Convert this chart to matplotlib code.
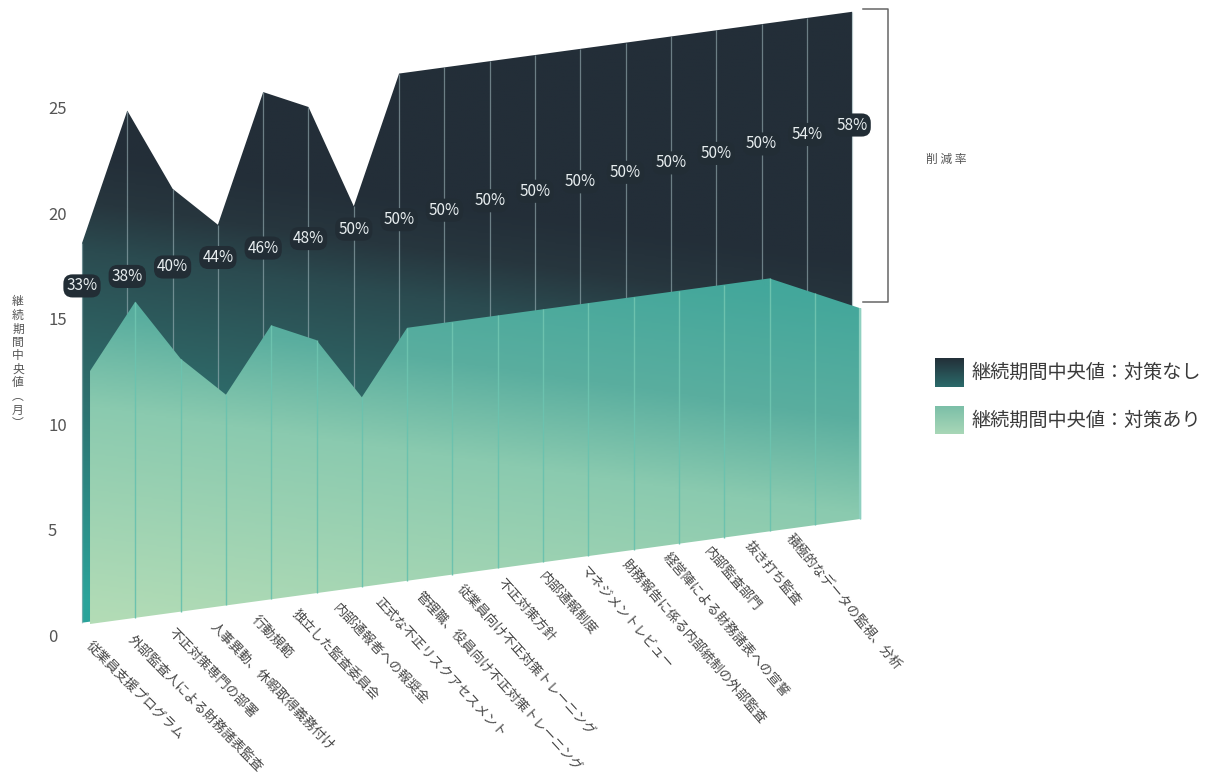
"""
Median fraud duration (months) with and without each anti-fraud control,
drawn as two skewed "3D" area planes with the reduction rate on top.
Saves out.png (1207 x 775 px).
"""

import numpy as np
import matplotlib
matplotlib.use("Agg")
import matplotlib.pyplot as plt
from matplotlib.colors import LinearSegmentedColormap, Normalize
from matplotlib.patches import Polygon
from matplotlib.transforms import Affine2D

plt.rcParams["font.family"] = ["Noto Sans CJK JP", "DejaVu Sans"]

# ── Data ────────────────────────────────────────────────────────────────────
CATEGORIES = [
    "従業員支援プログラム",
    "外部監査人による財務諸表監査",
    "不正対策専門の部署",
    "人事異動、休暇取得義務付け",
    "行動規範",
    "独立した監査委員会",
    "内部通報者への報奨金",
    "正式な不正リスクアセスメント",
    "管理職、役員向け不正対策トレーニング",
    "従業員向け不正対策トレーニング",
    "不正対策方針",
    "内部通報制度",
    "マネジメントレビュー",
    "財務報告に係る内部統制の外部監査",
    "経営陣による財務諸表への宣誓",
    "内部監査部門",
    "抜き打ち監査",
    "積極的なデータの監視、分析",
]
MONTHS_WITHOUT = [18, 24, 20, 18, 24, 23, 18, 24, 24, 24, 24, 24, 24, 24, 24, 24, 24, 24]
MONTHS_WITH = [12, 15, 12, 10, 13, 12, 9, 12, 12, 12, 12, 12, 12, 12, 12, 12, 11, 10]
REDUCTION_PCT = [33, 38, 40, 44, 46, 48, 50, 50, 50, 50, 50, 50, 50, 50, 50, 50, 54, 58]
Y_TICKS = [0, 5, 10, 15, 20, 25]

SERIES_NAMES = ["継続期間中央値：対策なし", "継続期間中央値：対策あり"]
Y_TITLE = "継続期間中央値︵月︶"
BRACKET_LABEL = "削 減 率"

# ── Layout / style ──────────────────────────────────────────────────────────
XLIM = (-1.810, 24.834)
YLIM = (-6.641, 30.123)
SKEW = 0.293                    # baseline rise per category (value units)
BASE_Y = 0.583                  # back plane baseline at first category
FRONT_DX, FRONT_DY = 0.177, -0.061
TILT = 0.301                    # tilt of the gradient isolines
PCT_BASE, PCT_RISE = 16.56, 0.449
TEXT = "#454545"

BACK_STOPS = [(0, "#2aa39a"), (1.7, "#2aa39a"), (13.5, "#2e6464"), (18.3, "#2b4b50"),
              (20.6, "#27363e"), (23.0, "#232e38"), (25, "#232e38")]
FRONT_STOPS = [(0, "#b5ddb7"), (0.7, "#b3dcb6"), (10.9, "#8acaaf"), (15.4, "#5aae9f"),
               (21.1, "#43a79b"), (25, "#43a79b")]


def make_cmap(stops):
    return LinearSegmentedColormap.from_list("", [(p / 25, c) for p, c in stops])


def gradient_area(ax, xs, values, transform, stops, zorder):
    verts = [(xs[0], 0)] + list(zip(xs, values)) + [(xs[-1], 0)]
    poly = Polygon(verts, closed=True, transform=transform,
                   facecolor="none", edgecolor="none")
    ax.add_patch(poly)
    gx = np.linspace(*XLIM, 500)
    gy = np.linspace(*YLIM, 500)
    X, Y = np.meshgrid(gx, gy)
    img = ax.imshow(Y + TILT * X, extent=(*XLIM, *YLIM), origin="lower",
                    cmap=make_cmap(stops), norm=Normalize(0, 25),
                    aspect="auto", interpolation="bilinear", zorder=zorder)
    img.set_clip_path(poly)


fig = plt.figure(figsize=(12.07, 7.75), dpi=100)
ax = fig.add_axes([0, 0, 1, 1])
ax.patch.set_visible(False)

back_aff = Affine2D().from_values(1, SKEW, 0, 1, 0, BASE_Y)
front_aff = Affine2D().from_values(1, SKEW, 0, 1, FRONT_DX, BASE_Y + FRONT_DY)
back = back_aff + ax.transData
front = front_aff + ax.transData

idx = np.arange(len(CATEGORIES))

# back plane: without controls
gradient_area(ax, idx, MONTHS_WITHOUT, back, BACK_STOPS, zorder=1)
ax.vlines(idx, 0, MONTHS_WITHOUT, transform=back, colors="#9db5ba",
          linewidth=0.9, alpha=0.6, zorder=2)

# front plane: with controls
gradient_area(ax, idx, MONTHS_WITH, front, FRONT_STOPS, zorder=3)
ax.vlines(idx[1:], 0, MONTHS_WITH[1:], transform=front, colors="#6cc2ae",
          linewidth=1.0, zorder=4)
ax.vlines([idx[-1]], 0, [MONTHS_WITH[-1]], transform=front, colors="#8fd0c0",
          linewidth=1.6, zorder=4)

# reduction-rate labels
pct_tf = Affine2D().from_values(1, PCT_RISE, 0, 1, 0, PCT_BASE) + ax.transData
for i, p in zip(idx, REDUCTION_PCT):
    ax.text(i, 0, f"{p}%", transform=pct_tf, ha="center", va="center",
            fontsize=11, color="#e8eef0", zorder=6,
            bbox=dict(boxstyle="round,pad=0.2,rounding_size=0.6",
                      fc="#222d35", ec="none"))

# bracket for the reduction at the last category
(bx, top_y), (_, bot_y) = back_aff.transform([(idx[-1], MONTHS_WITHOUT[-1]),
                                              (idx[-1], MONTHS_WITH[-1])])
top_y += 0.12
bot_y += 0.25
x0, x1 = bx + 0.24, bx + 0.79
ax.plot([x0, x1, x1, x0], [top_y, top_y, bot_y, bot_y], color="#666666",
        linewidth=1.1, zorder=5)
ax.text(x1 + 1.28, (top_y + bot_y) / 2 - 0.2, BRACKET_LABEL, ha="center",
        va="center", fontsize=8.5, color="#555555")

# category labels, slightly compressed and steepening to the right
for i, name in zip(idx, CATEGORIES):
    ax.text(0.243 + 0.9095 * i, -0.20 + 0.2984 * i, name,
            rotation=-(45 + 0.3 * i), rotation_mode="anchor",
            ha="left", va="top", fontsize=9.5, color=TEXT)

# y axis
ax.set_yticks(Y_TICKS)
ax.set_yticklabels([str(t) for t in Y_TICKS])
ax.tick_params(axis="y", length=0, pad=-34.6, labelsize=12, labelcolor="#555555")
for t in ax.get_yticklabels():
    t.set_horizontalalignment("left")
ax.set_xticks([])
for s in ax.spines.values():
    s.set_visible(False)
ax.set_ylabel("\n".join(Y_TITLE), rotation=0, fontsize=8.5, color="#555555",
              linespacing=1.05, ha="center", va="center")
ax.yaxis.set_label_coords(0.0149, 0.532)

ax.set_xlim(*XLIM)
ax.set_ylim(*YLIM)

# legend with gradient swatches
swatches = [((0.7747, 0.5006, 0.0240, 0.0374), ["#233039", "#2b6a6a"]),
            ((0.7747, 0.4400, 0.0240, 0.0361), ["#7cbfa8", "#a8d7b7"])]
for (rect, cols), name in zip(swatches, SERIES_NAMES):
    sax = fig.add_axes(rect)
    sax.imshow(np.linspace(0, 1, 50).reshape(-1, 1), aspect="auto",
               cmap=LinearSegmentedColormap.from_list("", cols))
    sax.axis("off")
    fig.text(rect[0] + 0.030, rect[1] + rect[3] / 2, name, ha="left",
             va="center", fontsize=13.8, color="#3a3a3a")

fig.savefig("out.png", dpi=100)
